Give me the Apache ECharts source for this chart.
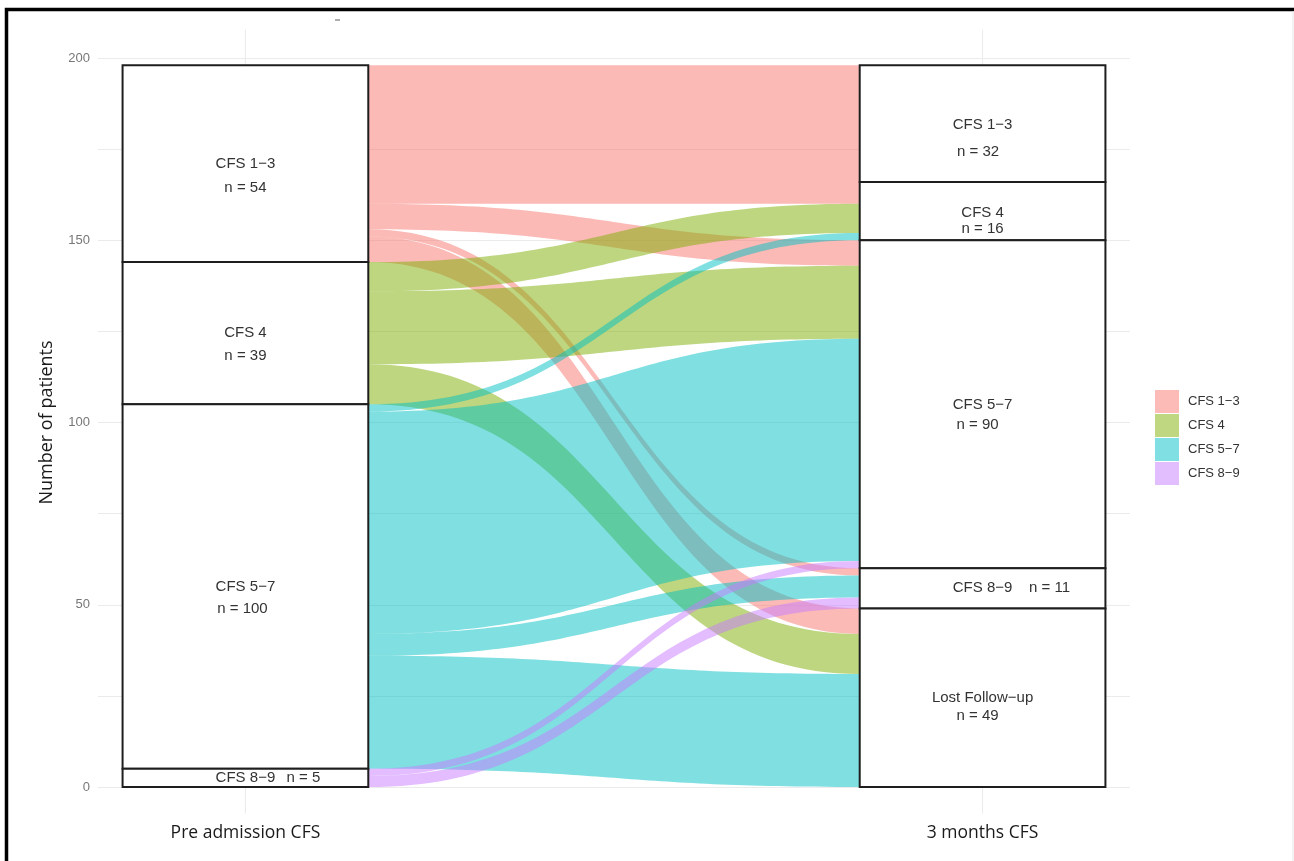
<!DOCTYPE html>
<html><head><meta charset="utf-8">
<script src="https://cdn.jsdelivr.net/npm/echarts@6/dist/echarts.min.js"></script>
<style>html,body{margin:0;padding:0;background:#fff}#c{width:1294px;height:861px}</style>
</head><body><div id="c"></div>
<script>
// ---------------- data ----------------
const axisNames = ['Pre admission CFS', '3 months CFS'];
const leftStrata = ['CFS 1\u22123', 'CFS 4', 'CFS 5\u22127', 'CFS 8\u22129'];
const rightStrata = ['CFS 1\u22123', 'CFS 4', 'CFS 5\u22127', 'CFS 8\u22129', 'Lost Follow\u2212up'];
// patients moving from each pre-admission stratum to each 3-month stratum (columns follow rightStrata)
const flowFromCFS13 = [32, 6, 7, 2, 7];
const flowFromCFS4  = [0, 8, 20, 0, 11];
const flowFromCFS57 = [0, 2, 61, 6, 31];
const flowFromCFS89 = [0, 0, 2, 3, 0];
const yTickValues = [0, 50, 100, 150, 200];

// ---------------- styles / layout (not data) ----------------
const baseColors = ['#F8766D', '#7CAE00', '#00BFC4', '#C77CFF'];
const legendColors = ['#FCBBB6', '#BED780', '#80DFE2', '#E3BEFF'];
const leftLabelLayout = [{ndx: 0, ndy: 24}, {ndx: 0, ndy: 23}, {ndx: -3, ndy: 22}, {inline: true, ndx: 58}];
const rightLabelLayout = [{ndx: -4.5, ndy: 27, tdy: 1}, {ndx: 0, ndy: 16, tdy: 2}, {ndx: -5, ndy: 20, tdy: 1}, {inline: true, ndx: 67}, {ndx: -5, ndy: 18.5}];
const halfW = 1 / 6;

// ---------------- derived ----------------
const flows = [flowFromCFS13, flowFromCFS4, flowFromCFS57, flowFromCFS89];
const leftTotals = flows.map(r => r.reduce((a, b) => a + b, 0));
const rightTotals = rightStrata.map((_, j) => flows.reduce((a, r) => a + r[j], 0));
const grand = leftTotals.reduce((a, b) => a + b, 0);
function tops(tot) { const t = []; let acc = grand; tot.forEach(v => { t.push(acc); acc -= v; }); return t; }
const leftTops = tops(leftTotals), rightTops = tops(rightTotals);

const strataData = [];
leftStrata.forEach((n, i) => strataData.push([1, leftTops[i] - leftTotals[i], leftTops[i], 0, i]));
rightStrata.forEach((n, j) => strataData.push([2, rightTops[j] - rightTotals[j], rightTops[j], 1, j]));

// each flow: [xLeft, leftTop, xRight, rightTop, value]; left side stacked by destination, right side by origin
const rightUsed = rightTotals.map(() => 0);
const flowSeriesData = flows.map((row, i) => {
  const out = []; let leftUsed = 0;
  row.forEach((v, j) => {
    if (v > 0) out.push([1 + halfW, leftTops[i] - leftUsed, 2 - halfW, rightTops[j] - rightUsed[j], v]);
    leftUsed += v;
    rightUsed[j] += v;
  });
  return out;
});

const chart = echarts.init(document.getElementById('c'), null, {renderer: 'canvas'});

const flowSeries = flows.map((row, i) => ({
  type: 'custom',
  name: leftStrata[i],
  z: 2,
  clip: false,
  itemStyle: {color: legendColors[i]},
  data: flowSeriesData[i],
  renderItem: function (params, api) {
    const v = api.value(4);
    const p0 = api.coord([api.value(0), api.value(1)]);
    const p1 = api.coord([api.value(2), api.value(3)]);
    const p2 = api.coord([api.value(2), api.value(3) - v]);
    const p3 = api.coord([api.value(0), api.value(1) - v]);
    const xm = (p0[0] + p1[0]) / 2;
    const d = 'M' + p0[0] + ' ' + p0[1] +
      ' C' + xm + ' ' + p0[1] + ' ' + xm + ' ' + p1[1] + ' ' + p1[0] + ' ' + p1[1] +
      ' L' + p2[0] + ' ' + p2[1] +
      ' C' + xm + ' ' + p2[1] + ' ' + xm + ' ' + p3[1] + ' ' + p3[0] + ' ' + p3[1] + ' Z';
    return {type: 'path', shape: {pathData: d}, style: {fill: baseColors[i], opacity: 0.5, stroke: null}};
  }
}));

const labelFont = {fontFamily: 'Liberation Sans, Arial, sans-serif', fontSize: 15, fill: '#333'};

const strataSeries = {
  type: 'custom',
  z: 3,
  clip: false,
  silent: true,
  data: strataData,
  renderItem: function (params, api) {
    const x = api.value(0), b = api.value(1), t = api.value(2), side = api.value(3), idx = api.value(4);
    const tl = api.coord([x - halfW, t]);
    const br = api.coord([x + halfW, b]);
    const c = api.coord([x, (t + b) / 2]);
    const names = side === 0 ? leftStrata : rightStrata;
    const totals = side === 0 ? leftTotals : rightTotals;
    const lay = (side === 0 ? leftLabelLayout : rightLabelLayout)[idx];
    const children = [{
      type: 'rect',
      shape: {x: tl[0], y: tl[1], width: br[0] - tl[0], height: br[1] - tl[1]},
      style: {fill: '#fff', stroke: '#1e1e1e', lineWidth: 2}
    }];
    const nText = 'n = ' + totals[idx];
    children.push({type: 'text', x: c[0], y: c[1] + (lay.tdy || 0),
      style: Object.assign({text: names[idx], align: 'center', verticalAlign: 'middle'}, labelFont)});
    if (lay.inline) {
      children.push({type: 'text', x: c[0] + lay.ndx, y: c[1],
        style: Object.assign({text: nText, align: 'center', verticalAlign: 'middle'}, labelFont)});
    } else {
      children.push({type: 'text', x: c[0] + lay.ndx, y: c[1] + (lay.tdy || 0) + lay.ndy,
        style: Object.assign({text: nText, align: 'center', verticalAlign: 'middle'}, labelFont)});
    }
    return {type: 'group', children: children};
  }
};

const vGridSeries = {
  type: 'custom',
  z: 1,
  clip: false,
  silent: true,
  data: [[1, 0], [2, 0]],
  renderItem: function (params, api) {
    const a = api.coord([api.value(0), -7.3]);
    const b = api.coord([api.value(0), 207.8]);
    return {type: 'line', shape: {x1: a[0], y1: a[1], x2: b[0], y2: b[1]}, style: {stroke: '#ebebeb', lineWidth: 1}};
  }
};

chart.setOption({
  animation: false,
  backgroundColor: '#fff',
  grid: {left: 98, right: 164, top: 58, bottom: 74, containLabel: false},
  legend: {
    orient: 'vertical', left: 1155, top: 390, padding: 0,
    icon: 'rect', itemWidth: 24, itemHeight: 23, itemGap: 1,
    textStyle: {fontFamily: 'Liberation Sans, Arial, sans-serif', fontSize: 13, color: '#333', padding: [0, 0, 0, 4]},
    data: leftStrata.map((n, i) => ({name: n, itemStyle: {color: legendColors[i], opacity: 1}})),
    selectedMode: false
  },
  xAxis: {
    type: 'value', min: 0.8, max: 2.2,
    axisLine: {show: false}, axisTick: {show: false}, splitLine: {show: false},
    axisLabel: {
      customValues: [1, 2],
      formatter: v => (Math.abs(v - 1) < 1e-6 ? axisNames[0] : (Math.abs(v - 2) < 1e-6 ? axisNames[1] : '')),
      margin: 37, color: '#1a1a1a', fontSize: 17.5, fontFamily: 'Open Sans, sans-serif'
    }
  },
  yAxis: {
    type: 'value', min: 0, max: 200, interval: 25,
    name: 'Number of patients', nameLocation: 'middle', nameRotate: 90, nameGap: 42,
    nameTextStyle: {fontFamily: 'Open Sans, sans-serif', fontSize: 18, color: '#1a1a1a'},
    axisLine: {show: false}, axisTick: {show: false},
    splitLine: {show: true, lineStyle: {color: '#ebebeb', width: 1}},
    axisLabel: {
      formatter: v => (yTickValues.indexOf(v) >= 0 ? String(v) : ''),
      margin: 8, color: '#777', fontSize: 13, fontFamily: 'Liberation Sans, Arial, sans-serif'
    }
  },
  graphic: [
    {type: 'rect', z: 100, shape: {x: 6.5, y: 9.5, width: 1400, height: 1000}, style: {fill: null, stroke: '#000', lineWidth: 3.5}},
    {type: 'line', z: 100, shape: {x1: 1293, y1: 11, x2: 1293, y2: 861}, style: {stroke: '#e6e6e6', lineWidth: 1}},
    {type: 'line', z: 100, shape: {x1: 335, y1: 20, x2: 340, y2: 20}, style: {stroke: '#777', lineWidth: 1.2}}
  ],
  series: [vGridSeries].concat(flowSeries, [strataSeries])
});
</script>
</body></html>
